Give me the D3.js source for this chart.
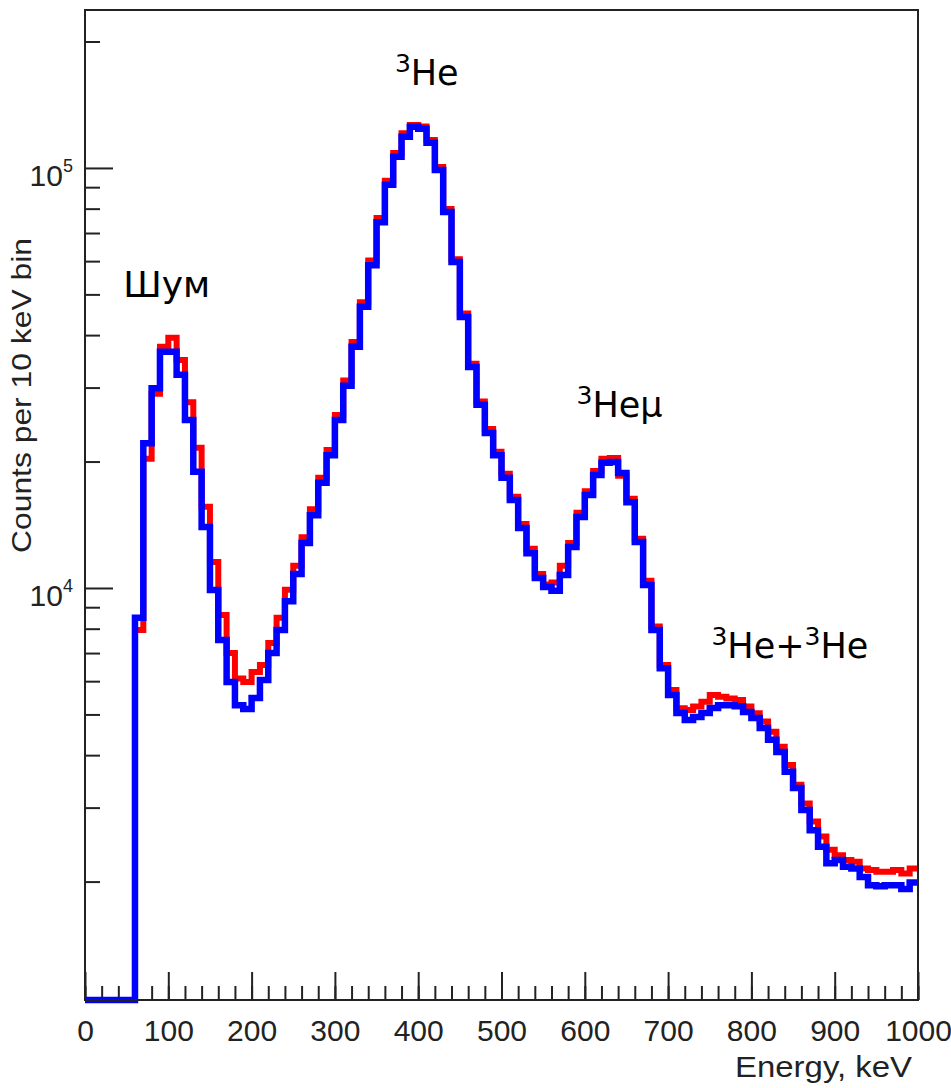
<!DOCTYPE html>
<html>
<head>
<meta charset="utf-8">
<script src="https://cdn.jsdelivr.net/npm/d3@7"></script>
<style>
  body { margin: 0; background: #fff; }
  .axis text { font-family: "Liberation Sans", Arial, sans-serif; fill: #222; }
  .axis line { stroke: #222; stroke-width: 2px; }
  .peak { font-family: "DejaVu Sans", sans-serif; fill: #000; }
</style>
</head>
<body>
<div id="chart"></div>
<script>
// 10 keV bins from 0 to 1000 keV, counts per bin
const binWidth = 10;
const countsRed = [
  0, 0, 0, 0, 0, 0, 7940, 20300, 29000, 37500,
  39400, 34900, 27700, 21560, 15600, 11530, 8620, 7000, 6090, 5970,
  6310, 6560, 7400, 8500, 9900, 11300, 13200, 15400, 18300, 21300,
  25800, 31200, 38500, 47900, 60200, 76000, 93200, 108500, 121000, 126500,
  125500, 116500, 100500, 79800, 60600, 45000, 34200, 27800, 23900, 21100,
  18700, 16500, 14200, 12400, 10800, 10200, 10300, 11300, 12800, 15100,
  17000, 19000, 20300, 20400, 18500, 16300, 13100, 10400, 8100, 6560,
  5720, 5170, 5120, 5220, 5360, 5560, 5510, 5460, 5410, 5220,
  5030, 4810, 4550, 4190, 3790, 3400, 3070, 2780, 2560, 2380,
  2310, 2250, 2230, 2150, 2130, 2110, 2110, 2130, 2090, 2150
];
const countsBlue = [
  0, 0, 0, 0, 0, 0, 8490, 22100, 29900, 36500,
  36500, 32200, 25100, 18900, 13970, 9890, 7520, 5970, 5260, 5150,
  5470, 6040, 7000, 7940, 9300, 10800, 12800, 14900, 17800, 20700,
  25100, 30300, 37500, 46700, 58700, 74300, 91200, 106300, 118600, 125300,
  124000, 114800, 98900, 78500, 59700, 44200, 33600, 27300, 23400, 20700,
  18300, 16200, 13900, 12100, 10560, 10050, 9850, 10740, 12520, 14750,
  16640, 18570, 19860, 19950, 18790, 16000, 12870, 10170, 7940, 6440,
  5560, 5040, 4850, 4930, 5040, 5180, 5260, 5260, 5230, 5070,
  4900, 4640, 4350, 4070, 3650, 3340, 2960, 2650, 2420, 2210,
  2250, 2170, 2150, 2050, 1960, 1950, 1960, 1960, 1920, 1990
];

const xMajorTicks = [0, 100, 200, 300, 400, 500, 600, 700, 800, 900, 1000];
const xMinorStep = 20;
const yMajorTicks = [1e4, 1e5];
const yMajorLabels = [['10', '4'], ['10', '5']];
const yMinorTicks = [2e3, 3e3, 4e3, 5e3, 6e3, 7e3, 8e3, 9e3,
  2e4, 3e4, 4e4, 5e4, 6e4, 7e4, 8e4, 9e4, 2e5];
const yRange = [1045, 237700];

const xTitle = 'Energy, keV';
const yTitle = 'Counts per 10 keV bin';

// peak annotations, anchored in data coordinates (energy, counts)
const peakNames = [
  [{ t: 'Шум' }],
  [{ t: '3', sup: true }, { t: 'He' }],
  [{ t: '3', sup: true }, { t: 'Heμ' }],
  [{ t: '3', sup: true }, { t: 'He+' }, { t: '3', sup: true }, { t: 'He' }]
];
const peakAnchorEnergy = [46, 372, 590, 752];
const peakAnchorCounts = [49300, 157800, 25500, 6810];

const W = 951, H = 1088;
const margin = { top: 10, right: 33, bottom: 88, left: 85 };
const width = W - margin.left - margin.right;
const height = H - margin.top - margin.bottom;

const svg = d3.select('#chart').append('svg')
  .attr('width', W)
  .attr('height', H);

svg.append('rect').attr('width', W).attr('height', H).attr('fill', '#fff');

const g = svg.append('g')
  .attr('transform', 'translate(' + margin.left + ',' + margin.top + ')');

const x = d3.scaleLinear().domain([0, 1000]).range([0, width]);
const y = d3.scaleLog().domain(yRange).range([height, 0]);

// minor x ticks
g.append('g')
  .attr('class', 'axis')
  .attr('transform', 'translate(0,' + height + ')')
  .call(d3.axisBottom(x)
    .tickValues(d3.range(0, 1000 + 1, xMinorStep))
    .tickSize(-14)
    .tickFormat(''))
  .call(a => a.select('.domain').remove());

// major x ticks + labels
g.append('g')
  .attr('class', 'axis')
  .attr('transform', 'translate(0,' + height + ')')
  .call(d3.axisBottom(x)
    .tickValues(xMajorTicks)
    .tickSize(-28)
    .tickPadding(20)
    .tickFormat(d3.format('d')))
  .call(a => a.select('.domain').remove())
  .call(a => a.selectAll('text').attr('font-size', 30));

// minor y ticks
g.append('g')
  .attr('class', 'axis')
  .call(d3.axisLeft(y)
    .tickValues(yMinorTicks)
    .tickSize(-15)
    .tickFormat(''))
  .call(a => a.select('.domain').remove());

// major y ticks, labels as 10^n
g.append('g')
  .attr('class', 'axis')
  .call(d3.axisLeft(y)
    .tickValues(yMajorTicks)
    .tickSize(-28)
    .tickPadding(12)
    .tickFormat(''))
  .call(a => a.select('.domain').remove())
  .call(a => a.selectAll('.tick text')
    .attr('font-size', 30)
    .attr('dy', '0.58em')
    .each(function(d, i) {
      const t = d3.select(this);
      t.append('tspan').text(yMajorLabels[i][0]);
      t.append('tspan').attr('font-size', 18).attr('dy', '-0.75em').text(yMajorLabels[i][1]);
    }));

// histograms, red behind blue
const line = d3.line()
  .x(d => x(d[0]))
  .y(d => y(Math.max(d[1], yRange[0])))
  .curve(d3.curveStepAfter);

function steps(counts) {
  const pts = counts.map((c, i) => [i * binWidth, c]);
  pts.push([counts.length * binWidth, counts[counts.length - 1]]);
  return pts;
}

g.append('path')
  .datum(steps(countsRed))
  .attr('fill', 'none')
  .attr('stroke', '#ff0000')
  .attr('stroke-width', 6)
  .attr('d', line);

g.append('path')
  .datum(steps(countsBlue))
  .attr('fill', 'none')
  .attr('stroke', '#0000ff')
  .attr('stroke-width', 6.5)
  .attr('d', line);

// frame
g.append('rect')
  .attr('width', width)
  .attr('height', height)
  .attr('fill', 'none')
  .attr('stroke', '#222')
  .attr('stroke-width', 2);

// axis titles
svg.append('text')
  .attr('class', 'axis')
  .attr('x', margin.left + width - 6)
  .attr('y', 1077)
  .attr('text-anchor', 'end')
  .attr('font-family', 'Liberation Sans, Arial, sans-serif')
  .attr('font-size', 30)
  .attr('fill', '#222')
  .attr('textLength', 177)
  .attr('lengthAdjust', 'spacingAndGlyphs')
  .text(xTitle);

svg.append('text')
  .attr('transform', 'translate(31,238) rotate(-90)')
  .attr('text-anchor', 'end')
  .attr('font-family', 'Liberation Sans, Arial, sans-serif')
  .attr('font-size', 28)
  .attr('fill', '#222')
  .attr('textLength', 315)
  .attr('lengthAdjust', 'spacingAndGlyphs')
  .text(yTitle);

// peak names
peakNames.forEach((parts, i) => {
  const t = g.append('text')
    .attr('class', 'peak')
    .attr('x', x(peakAnchorEnergy[i]))
    .attr('y', y(peakAnchorCounts[i]))
    .attr('font-size', i === 0 ? 36 : 35);
  let up = false;
  parts.forEach(p => {
    const s = t.append('tspan').text(p.t);
    if (p.sup && !up) { s.attr('font-size', 25).attr('dy', -13); up = true; }
    else if (!p.sup && up) { s.attr('dy', 13); up = false; }
  });
});
</script>
</body>
</html>
